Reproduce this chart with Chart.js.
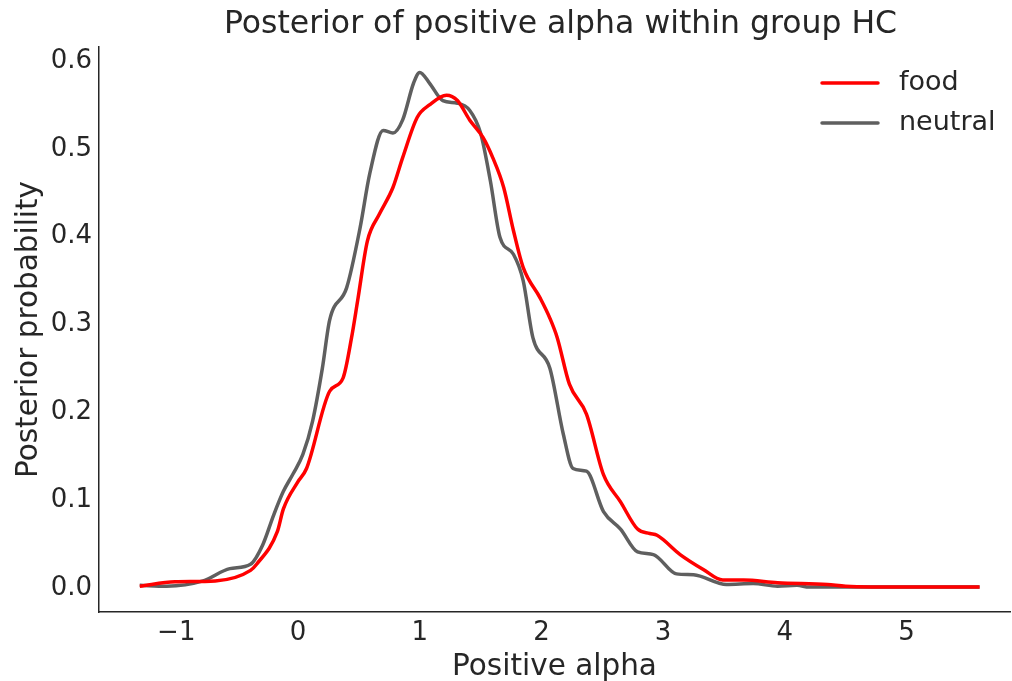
<!DOCTYPE html>
<html>
<head>
<meta charset="utf-8">
<script src="https://cdn.jsdelivr.net/npm/chart.js@4"></script>
<style>
  html, body { margin: 0; padding: 0; background: #fff; }
  #wrap { width: 1012px; height: 681px; }
</style>
</head>
<body>
<div id="wrap"><canvas id="kde"></canvas></div>
<script>
// values
const foodX = [-1.30, -1.01, -0.68, -0.39, -0.34, -0.17, -0.12, 0.0, 0.07, 0.26, 0.37, 0.44, 0.49, 0.57, 0.67, 0.78, 0.86, 0.98, 1.08, 1.22, 1.31, 1.41, 1.52, 1.60, 1.69, 1.77, 1.85, 1.99, 2.07, 2.13, 2.23, 2.37, 2.51, 2.65, 2.79, 2.89, 2.95, 3.14, 3.33, 3.49, 3.66, 3.94, 4.35, 4.5, 5.0, 5.6];
const foodY = [0.002, 0.007, 0.008, 0.020, 0.027, 0.064, 0.090, 0.121, 0.136, 0.224, 0.239, 0.285, 0.327, 0.395, 0.426, 0.456, 0.490, 0.536, 0.550, 0.561, 0.555, 0.533, 0.513, 0.490, 0.456, 0.407, 0.365, 0.330, 0.307, 0.285, 0.232, 0.198, 0.129, 0.098, 0.067, 0.062, 0.060, 0.038, 0.021, 0.009, 0.009, 0.006, 0.004, 0.002, 0.001, 0.001];

const neutralX = [-1.30, -1.08, -0.78, -0.56, -0.39, -0.29, -0.20, -0.12, -0.04, 0.04, 0.12, 0.20, 0.26, 0.40, 0.51, 0.59, 0.70, 0.78, 0.86, 0.95, 1.0, 1.08, 1.19, 1.31, 1.41, 1.50, 1.58, 1.66, 1.77, 1.85, 1.93, 2.07, 2.18, 2.26, 2.37, 2.51, 2.65, 2.79, 2.92, 3.11, 3.25, 3.52, 3.74, 3.94, 4.1, 4.2, 5.0, 5.6];
const neutralY = [0.003, 0.002, 0.008, 0.022, 0.027, 0.049, 0.083, 0.110, 0.130, 0.152, 0.190, 0.250, 0.305, 0.342, 0.410, 0.472, 0.521, 0.518, 0.533, 0.575, 0.587, 0.575, 0.555, 0.552, 0.544, 0.518, 0.464, 0.399, 0.380, 0.350, 0.285, 0.250, 0.175, 0.136, 0.133, 0.087, 0.067, 0.041, 0.038, 0.016, 0.015, 0.004, 0.005, 0.002, 0.003, 0.001, 0.001, 0.001];

const xTicks = [-1, 0, 1, 2, 3, 4, 5];
const yTicks = [0.0, 0.1, 0.2, 0.3, 0.4, 0.5, 0.6];
const chartTitle = 'Posterior of positive alpha within group HC';

const textColor = '#262626';
const fontFamily = '"DejaVu Sans", sans-serif';

function toPoints(xs, ys) {
    return xs.map((x, i) => ({ x: x, y: ys[i] }));
}

// title centred over the axes and legend inside the plot, like matplotlib
const axesDecor = {
    id: 'axesDecor',
    afterDraw(chart) {
        const { ctx, chartArea } = chart;
        ctx.save();
        ctx.fillStyle = textColor;
        ctx.font = '31.5px ' + fontFamily;
        ctx.textAlign = 'center';
        ctx.textBaseline = 'middle';
        ctx.fillText(chartTitle, (chartArea.left + chartArea.right) / 2 + 6, chartArea.top - 22);

        ctx.font = '27px ' + fontFamily;
        ctx.textAlign = 'left';
        ctx.lineCap = 'round';
        chart.data.datasets.forEach((ds, i) => {
            const y = chartArea.top + 36 + i * 40;
            const x0 = chartArea.right - 188;
            ctx.strokeStyle = ds.borderColor;
            ctx.lineWidth = ds.borderWidth;
            ctx.beginPath();
            ctx.moveTo(x0, y);
            ctx.lineTo(x0 + 56, y);
            ctx.stroke();
            ctx.fillText(ds.label, x0 + 77, y);
        });
        ctx.restore();
    }
};

const ctx = document.getElementById('kde');
const myChart = new Chart(ctx, {
    type: 'line',
    data: {
        datasets: [{
            label: 'food',
            data: toPoints(foodX, foodY),
            borderColor: '#ff0000',
            borderWidth: 3.5,
            pointRadius: 0,
            cubicInterpolationMode: 'monotone'
        },
        {
            label: 'neutral',
            data: toPoints(neutralX, neutralY),
            borderColor: '#5f5f5f',
            borderWidth: 3.5,
            pointRadius: 0,
            cubicInterpolationMode: 'monotone'
        }]
    },
    options: {
        responsive: true,
        maintainAspectRatio: false,
        animation: false,
        layout: { padding: { left: 0, right: 2, top: 47, bottom: 0 } },
        scales: {
            x: {
                type: 'linear',
                min: -1.635,
                max: 5.85,
                grid: { display: false, drawTicks: false },
                border: { display: true, color: '#262626', width: 1.5 },
                afterBuildTicks(scale) {
                    scale.ticks = xTicks.map(v => ({ value: v }));
                },
                afterFit(scale) {
                    scale.height = 69;
                },
                ticks: {
                    color: textColor,
                    font: { family: fontFamily, size: 26 },
                    padding: 6,
                    maxRotation: 0,
                    callback: v => String(v).replace('-', '\u2212')
                },
                title: {
                    display: true,
                    text: 'Positive alpha',
                    color: textColor,
                    font: { family: fontFamily, size: 29.5 },
                    padding: { top: 0, bottom: -4 }
                }
            },
            y: {
                min: -0.0274,
                max: 0.616,
                grid: { display: false, drawTicks: false },
                border: { display: true, color: '#262626', width: 1.5 },
                afterBuildTicks(scale) {
                    scale.ticks = yTicks.map(v => ({ value: v }));
                },
                afterFit(scale) {
                    scale.width = 99;
                },
                ticks: {
                    color: textColor,
                    font: { family: fontFamily, size: 26 },
                    padding: 7,
                    callback: v => v.toFixed(1)
                },
                title: {
                    display: true,
                    text: 'Posterior probability',
                    color: textColor,
                    font: { family: fontFamily, size: 29.5 },
                    padding: { top: 12, bottom: 0 }
                }
            }
        },
        plugins: {
            legend: { display: false },
            tooltip: { enabled: false },
            title: { display: false }
        }
    },
    plugins: [axesDecor]
});
</script>
</body>
</html>
